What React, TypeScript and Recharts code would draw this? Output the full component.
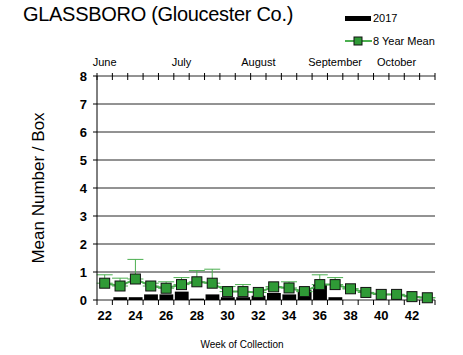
import { ComposedChart, Bar, Line, XAxis, YAxis, CartesianGrid, ErrorBar } from 'recharts';

const weeks = [22, 23, 24, 25, 26, 27, 28, 29, 30, 31, 32, 33, 34, 35, 36, 37, 38, 39, 40, 41, 42, 43];
const year2017 = [0, 0.1, 0.1, 0.2, 0.2, 0.3, 0.05, 0.2, 0.1, 0.1, 0.15, 0.25, 0.2, 0.35, 0.55, 0.1, 0, 0, 0, 0, 0, 0];
const mean8 = [0.6, 0.5, 0.75, 0.5, 0.42, 0.55, 0.65, 0.6, 0.3, 0.3, 0.27, 0.47, 0.43, 0.3, 0.55, 0.55, 0.4, 0.27, 0.2, 0.2, 0.12, 0.08];
const meanErr = [0.3, 0.28, 0.7, 0.1, 0.23, 0.25, 0.4, 0.5, 0.18, 0.25, 0, 0, 0.22, 0, 0.35, 0.25, 0, 0, 0, 0, 0, 0];
const yTicks = [0, 1, 2, 3, 4, 5, 6, 7, 8];
const weekLabels = [22, 24, 26, 28, 30, 32, 34, 36, 38, 40, 42];
const monthWeeks = [22, 27, 32, 37, 41];
const monthNames = ['June', 'July', 'August', 'September', 'October'];

const boundaries = [...weeks.map((w) => w - 0.5), 43.5];
const data = weeks.map((w, i) => ({ week: w, y2017: year2017[i], mean: mean8[i], err: [0, meanErr[i]] }));

const font = 'Arial, "Liberation Sans", sans-serif';

// short ticks crossing the top axis at each week boundary
const TopTick = (props: any) => {
  const { x, y } = props;
  return <line x1={x} x2={x} y1={y - 3} y2={y + 4} stroke="#000" strokeWidth={1} />;
};

const BottomTick = (props: any) => {
  const { x, y } = props;
  return <line x1={x} x2={x} y1={y} y2={y + 5} stroke="#000" strokeWidth={1} />;
};

const Square = (props: any) => {
  const { cx, cy } = props;
  if (cx == null || cy == null) return null;
  return <rect x={cx - 5} y={cy - 5} width={10} height={10} fill="#2f9a36" stroke="#111" strokeWidth={1} />;
};

const LegendBox = () => (
  <div style={{ position: 'absolute', left: 345, top: 11, fontFamily: font, fontSize: 11, color: '#000' }}>
    <div style={{ display: 'flex', alignItems: 'center', height: 14 }}>
      <span style={{ display: 'inline-block', width: 26, height: 5, background: '#000', marginRight: 2 }} />
      <span>2017</span>
    </div>
    <div style={{ display: 'flex', alignItems: 'center', height: 14, marginTop: 9 }}>
      <svg width={27} height={12} style={{ marginRight: 1 }}>
        <line x1={0} x2={27} y1={6} y2={6} stroke="#4caf50" strokeWidth={2} />
        <rect x={9} y={2} width={8} height={8} fill="#2f9a36" stroke="#111" />
      </svg>
      <span>8 Year Mean</span>
    </div>
  </div>
);

export default function App() {
  return (
    <div style={{ position: 'fixed', left: 0, top: 0, width: 463, height: 355, background: '#fff' }}>
      <div style={{ position: 'absolute', left: 23, top: 3, fontFamily: font, fontSize: 20, letterSpacing: -0.3, color: '#000' }}>
        GLASSBORO (Gloucester Co.)
      </div>
      <div style={{ position: 'absolute', left: 0, width: 484, top: 339, textAlign: 'center', fontFamily: font, fontSize: 10, color: '#000' }}>
        Week of Collection
      </div>
      <LegendBox />
      <ComposedChart width={463} height={355} data={data} margin={{ top: 55, right: 28, bottom: 25, left: 0 }}>
        <CartesianGrid yAxisId="l" xAxisId="x" vertical={false} horizontal stroke="#000" strokeOpacity={0.85} />
        <XAxis
          xAxisId="b"
          type="number"
          dataKey="week"
          domain={[21.5, 43.5]}
          ticks={boundaries}
          interval={0}
          axisLine={false}
          tick={<BottomTick />}
          tickLine={false}
          tickSize={0}
          tickMargin={0}
          height={1}
          orientation="bottom"
        />
        <XAxis
          xAxisId="x"
          type="number"
          dataKey="week"
          domain={[21.5, 43.5]}
          ticks={weekLabels}
          interval={0}
          tickLine={false}
          axisLine={false}
          tick={{ fill: '#000', fontSize: 13, fontWeight: 'bold', fontFamily: font }}
          tickMargin={4}
          height={29}
        />
        <XAxis
          xAxisId="a"
          type="number"
          dataKey="week"
          domain={[21.5, 43.5]}
          ticks={boundaries}
          interval={0}
          orientation="top"
          axisLine={false}
          tickLine={false}
          tickSize={0}
          tickMargin={0}
          tick={<TopTick />}
          height={1}
        />
        <XAxis
          xAxisId="m"
          type="number"
          dataKey="week"
          domain={[21.5, 43.5]}
          ticks={monthWeeks}
          interval={0}
          orientation="top"
          axisLine={false}
          tickLine={false}
          tickFormatter={(v: number) => monthNames[monthWeeks.indexOf(v)]}
          tick={{ fill: '#000', fontSize: 11, fontFamily: font }}
          tickMargin={3}
          height={20}
        />
        <YAxis
          yAxisId="l"
          domain={[0, 8]}
          ticks={yTicks}
          interval={0}
          width={97}
          axisLine={{ stroke: '#000' }}
          tickLine={{ stroke: '#000' }}
          tickSize={4}
          tickMargin={6}
          tick={{ fill: '#000', fontSize: 13, fontWeight: 'bold', fontFamily: font }}
          label={{ value: 'Mean Number  / Box', angle: -90, position: 'insideLeft', offset: 38, style: { fill: '#000', fontSize: 17, fontFamily: font, textAnchor: 'middle' } }}
        />
        <YAxis yAxisId="r" orientation="right" domain={[0, 8]} tick={false} tickLine={false} width={0} axisLine={{ stroke: '#000' }} />
        <Bar xAxisId="x" yAxisId="l" dataKey="y2017" name="2017" fill="#000" barSize={15.4} isAnimationActive={false} />
        <Line
          xAxisId="x"
          yAxisId="l"
          dataKey="mean"
          name="8 Year Mean"
          stroke="#4caf50"
          strokeWidth={2}
          dot={<Square />}
          activeDot={false}
          isAnimationActive={false}
        >
          <ErrorBar dataKey="err" direction="y" stroke="#4caf50" strokeWidth={1} width={8} isAnimationActive={false} />
        </Line>
      </ComposedChart>
    </div>
  );
}
